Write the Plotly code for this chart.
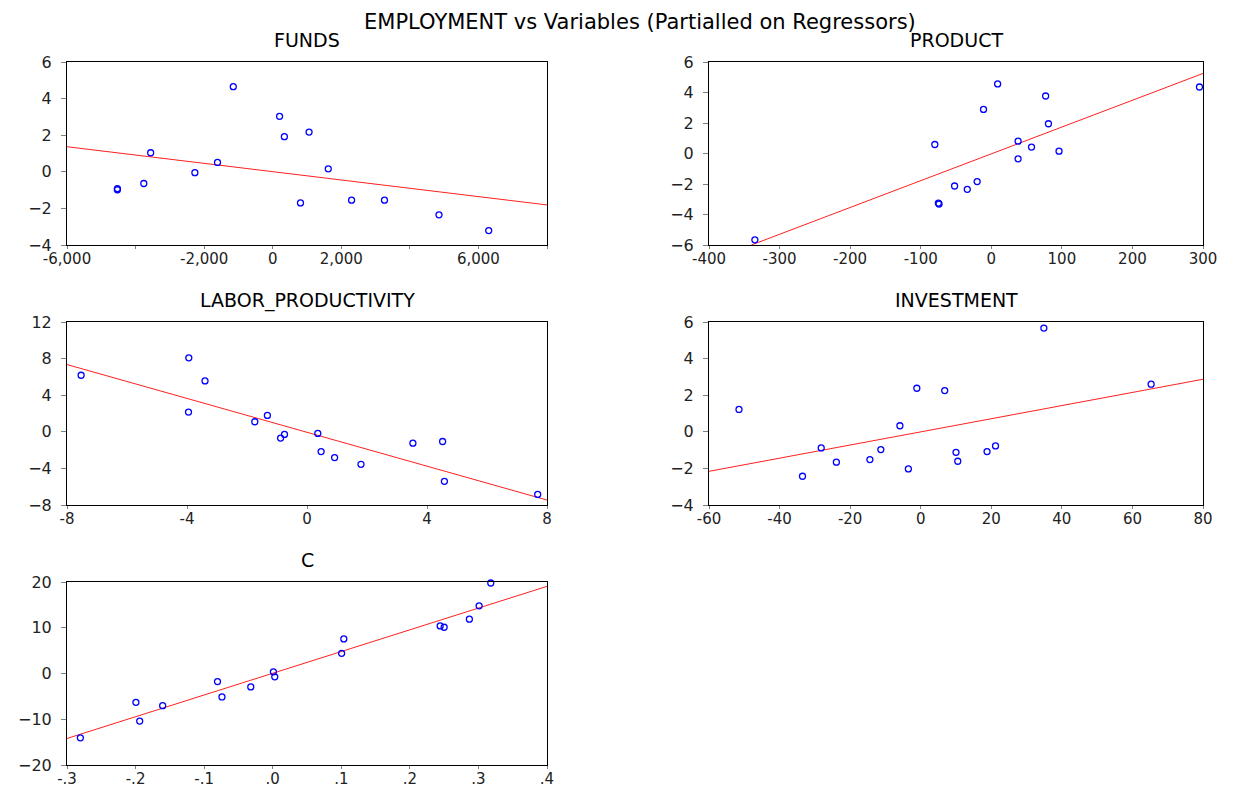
import plotly.graph_objects as go

W, H = 1235, 787
ML, MR, MT, MB = 50, 30, 50, 20
OFF = 8  # page body margin shifts the figure on screen
FONT = 'DejaVu Sans'
BLUE = '#0000FF'
RED = '#FF2020'

# partial residual points
funds_x = [-4530, -4530, -3760, -3560, -2270, -1610, -1150, 200, 340, 1060, 810, 1620, 2300, 3260, 4850, 6300]
funds_y = [-0.92, -0.98, -0.64, 1.04, -0.05, 0.51, 4.65, 3.03, 1.92, 2.17, -1.70, 0.16, -1.55, -1.55, -2.35, -3.21]
funds_fit_x = [-6000, 8000]
funds_fit_y = [1.37, -1.81]

product_x = [-335, -80, -75, -74, -52, -34, -20, -11, 9, 38, 38, 57, 77, 81, 96, 295]
product_y = [-5.66, 0.59, -3.25, -3.31, -2.13, -2.35, -1.84, 2.89, 4.56, 0.81, -0.35, 0.42, 3.77, 1.95, 0.15, 4.36]
product_fit_x = [-340, 300]
product_fit_y = [-6.0, 5.25]

labor_x = [-7.53, -3.94, -3.95, -3.40, -1.74, -1.32, -0.88, -0.75, 0.36, 0.47, 0.92, 1.80, 3.53, 4.52, 4.58, 7.69]
labor_y = [6.18, 8.08, 2.16, 5.56, 1.10, 1.79, -0.69, -0.29, -0.18, -2.16, -2.82, -3.55, -1.24, -1.06, -5.41, -6.84]
labor_fit_x = [-8, 8]
labor_fit_y = [7.35, -7.46]

invest_x = [-51.5, -33.5, -28.2, -23.9, -14.4, -11.3, -5.9, -3.5, -1.1, 6.8, 10.0, 10.5, 18.8, 21.2, 34.9, 65.3]
invest_y = [1.22, -2.43, -0.88, -1.66, -1.52, -0.97, 0.33, -2.03, 2.38, 2.25, -1.12, -1.61, -1.08, -0.77, 5.67, 2.60]
invest_fit_x = [-60, 80]
invest_fit_y = [-2.16, 2.87]

c_x = [-0.2805, -0.1995, -0.194, -0.1605, -0.0805, -0.074, -0.032, 0.001, 0.003, 0.1005, 0.1037, 0.2442, 0.25, 0.2868, 0.301, 0.318]
c_y = [-14.07, -6.30, -10.40, -7.03, -1.76, -5.13, -2.93, 0.37, -0.73, 4.40, 7.55, 10.40, 10.11, 11.87, 14.80, 19.78]
c_fit_x = [-0.3, 0.4]
c_fit_y = [-14.2, 19.05]

# panel boxes in screen pixels: (left, right) and (top, bottom)
COL1 = (67, 547)
COL2 = (709, 1203)
ROWS = [(62, 245), (322, 505), (582, 765)]


def px_x(px):
    return (px - OFF - ML) / (W - ML - MR)


def px_y(py):
    return 1 - (py - OFF - MT) / (H - MT - MB)


panels = [
    dict(title='FUNDS', x=funds_x, y=funds_y, fx=funds_fit_x, fy=funds_fit_y,
         col=COL1, row=ROWS[0], xr=[-6000, 8000], yr=[-4, 6],
         xt=[-6000, -4000, -2000, 0, 2000, 4000, 6000, 8000],
         xl=['-6,000', '', '-2,000', '0', '2,000', '', '6,000', ''],
         yt=[-4, -2, 0, 2, 4, 6]),
    dict(title='PRODUCT', x=product_x, y=product_y, fx=product_fit_x, fy=product_fit_y,
         col=COL2, row=ROWS[0], xr=[-400, 300], yr=[-6, 6],
         xt=[-400, -300, -200, -100, 0, 100, 200, 300],
         xl=['-400', '-300', '-200', '-100', '0', '100', '200', '300'],
         yt=[-6, -4, -2, 0, 2, 4, 6]),
    dict(title='LABOR_PRODUCTIVITY', x=labor_x, y=labor_y, fx=labor_fit_x, fy=labor_fit_y,
         col=COL1, row=ROWS[1], xr=[-8, 8], yr=[-8, 12],
         xt=[-8, -4, 0, 4, 8], xl=['-8', '-4', '0', '4', '8'],
         yt=[-8, -4, 0, 4, 8, 12]),
    dict(title='INVESTMENT', x=invest_x, y=invest_y, fx=invest_fit_x, fy=invest_fit_y,
         col=COL2, row=ROWS[1], xr=[-60, 80], yr=[-4, 6],
         xt=[-60, -40, -20, 0, 20, 40, 60, 80],
         xl=['-60', '-40', '-20', '0', '20', '40', '60', '80'],
         yt=[-4, -2, 0, 2, 4, 6]),
    dict(title='C', x=c_x, y=c_y, fx=c_fit_x, fy=c_fit_y,
         col=COL1, row=ROWS[2], xr=[-0.3, 0.4], yr=[-20, 20],
         xt=[-0.3, -0.2, -0.1, 0, 0.1, 0.2, 0.3, 0.4],
         xl=['-.3', '-.2', '-.1', '.0', '.1', '.2', '.3', '.4'],
         yt=[-20, -10, 0, 10, 20]),
]

fig = go.Figure()
layout = {}
annotations = []

for i, p in enumerate(panels, start=1):
    xa = 'x' if i == 1 else f'x{i}'
    ya = 'y' if i == 1 else f'y{i}'
    fig.add_trace(go.Scatter(
        x=p['fx'], y=p['fy'], mode='lines', xaxis=xa, yaxis=ya,
        line=dict(color=RED, width=1), showlegend=False, hoverinfo='skip',
    ))
    fig.add_trace(go.Scatter(
        x=p['x'], y=p['y'], mode='markers', xaxis=xa, yaxis=ya,
        marker=dict(symbol='circle-open', size=6, color=BLUE, line=dict(width=1.3)),
        showlegend=False, cliponaxis=False,
    ))
    l, r = p['col']
    t, b = p['row']
    common = dict(
        showgrid=False, zeroline=False, showline=True, mirror=True,
        linecolor='black', linewidth=1, ticks='outside',
        tickcolor='#808080', automargin=False,
    )
    layout['xaxis' if i == 1 else f'xaxis{i}'] = dict(
        domain=[px_x(l), px_x(r)], range=p['xr'], anchor=ya, ticklen=3,
        tickvals=p['xt'], ticktext=p['xl'], ticklabelstandoff=-3,
        tickfont=dict(family=FONT, size=15, color='#222222'), **common,
    )
    layout['yaxis' if i == 1 else f'yaxis{i}'] = dict(
        domain=[px_y(b), px_y(t)], range=p['yr'], anchor=xa, ticklen=5,
        tickvals=p['yt'], ticklabelstandoff=6,
        tickfont=dict(family=FONT, size=16, color='#222222'), **common,
    )
    annotations.append(dict(
        text=p['title'], x=px_x((l + r) / 2), y=px_y(t - 22),
        xref='paper', yref='paper', xanchor='center', yanchor='middle',
        showarrow=False, font=dict(family=FONT, size=19, color='black'),
    ))

annotations.append(dict(
    text='EMPLOYMENT vs Variables (Partialled on Regressors)',
    x=px_x(640), y=px_y(OFF), xref='paper', yref='paper',
    xanchor='center', yanchor='top', showarrow=False,
    font=dict(family=FONT, size=21, color='black'),
))

fig.update_layout(
    width=W, height=H,
    margin=dict(l=ML, r=MR, t=MT, b=MB, autoexpand=False),
    paper_bgcolor='white', plot_bgcolor='white',
    annotations=annotations,
    **layout,
)

fig.write_html('out.html')
